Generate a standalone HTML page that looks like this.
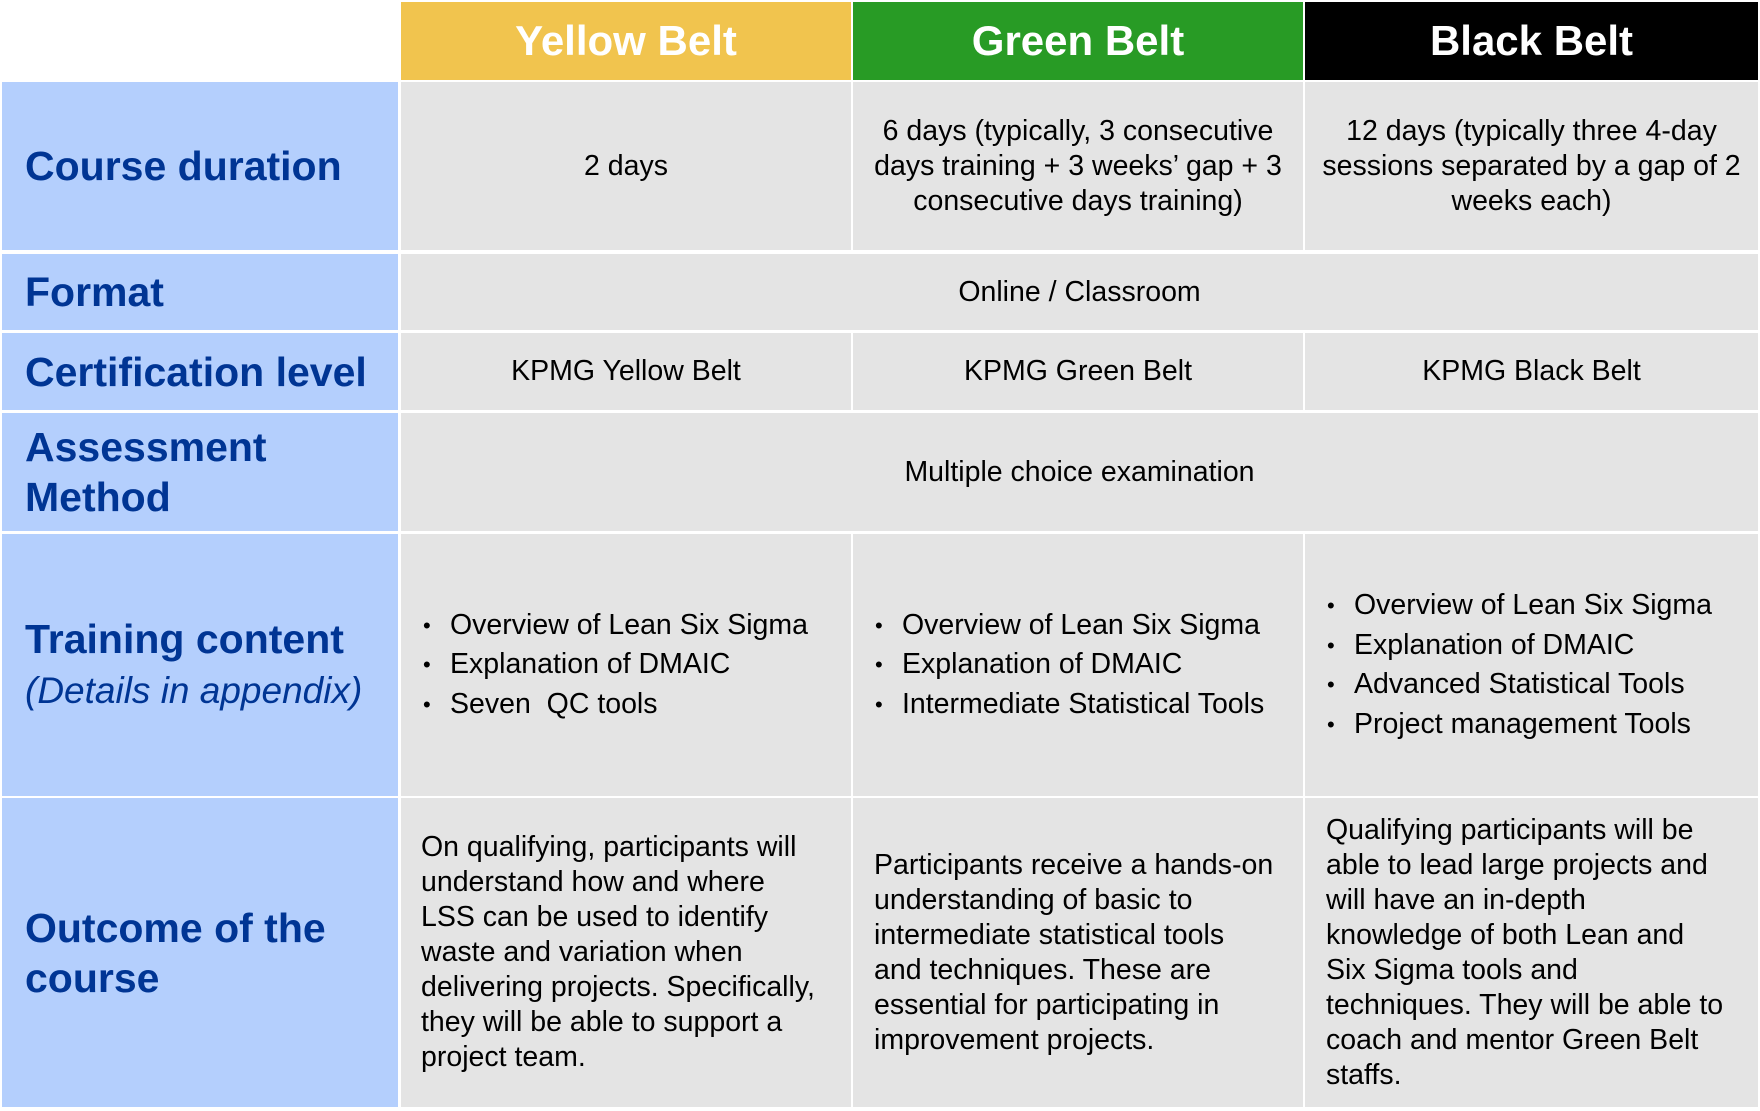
<!DOCTYPE html>
<html><head><meta charset="utf-8"><style>
body{margin:0;width:1760px;height:1111px;background:#fff;position:relative;overflow:hidden;font-family:"Liberation Sans",Arial,sans-serif}
.c{position:absolute;display:flex;align-items:center;box-sizing:border-box}
.h{justify-content:center;color:#fff;font-weight:bold;font-size:42px}
.l{background:#b4cffd;color:#003594;font-weight:bold;font-size:41px;padding-left:23px;line-height:50px}
.g{background:#e4e4e4;color:#000;font-size:28.5px;line-height:35px;justify-content:center;text-align:center;white-space:nowrap}
.t{justify-content:flex-start;text-align:left}
ul{margin:0;padding:0;list-style:none;line-height:39.5px}
li{position:relative;padding-left:27px}
li:before{content:"•";position:absolute;left:0;top:0;font-size:22px}
</style></head><body>
<div class="c h" style="left:401px;top:2px;width:450px;height:78px;background:#f1c44e">Yellow Belt</div>
<div class="c h" style="left:853px;top:2px;width:450px;height:78px;background:#289b25">Green Belt</div>
<div class="c h" style="left:1305px;top:2px;width:453px;height:78px;background:#000">Black Belt</div>

<div class="c l" style="left:2px;top:82px;width:396px;height:168px">Course duration</div>
<div class="c g" style="left:401px;top:82px;width:450px;height:168px">2 days</div>
<div class="c g" style="left:853px;top:82px;width:450px;height:168px"><div>6 days (typically, 3 consecutive<br>days training + 3 weeks’ gap + 3<br>consecutive days training)</div></div>
<div class="c g" style="left:1305px;top:82px;width:453px;height:168px"><div>12 days (typically three 4-day<br>sessions separated by a gap of 2<br>weeks each)</div></div>

<div class="c l" style="left:2px;top:254px;width:396px;height:76px">Format</div>
<div class="c g" style="left:401px;top:254px;width:1357px;height:76px">Online / Classroom</div>

<div class="c l" style="left:2px;top:333px;width:396px;height:77px">Certification level</div>
<div class="c g" style="left:401px;top:333px;width:450px;height:77px">KPMG Yellow Belt</div>
<div class="c g" style="left:853px;top:333px;width:450px;height:77px">KPMG Green Belt</div>
<div class="c g" style="left:1305px;top:333px;width:453px;height:77px">KPMG Black Belt</div>

<div class="c l" style="left:2px;top:413px;width:396px;height:118px">Assessment<br>Method</div>
<div class="c g" style="left:401px;top:413px;width:1357px;height:118px">Multiple choice examination</div>

<div class="c l" style="left:2px;top:534px;width:396px;height:262px"><div>Training content<br><span style="font-weight:normal;font-style:italic;font-size:37px">(Details in appendix)</span></div></div>
<div class="c g t" style="left:401px;top:534px;width:450px;height:262px;padding-left:22px"><ul><li>Overview of Lean Six Sigma</li><li>Explanation of DMAIC</li><li>Seven&nbsp; QC tools</li></ul></div>
<div class="c g t" style="left:853px;top:534px;width:450px;height:262px;padding-left:22px"><ul><li>Overview of Lean Six Sigma</li><li>Explanation of DMAIC</li><li>Intermediate Statistical Tools</li></ul></div>
<div class="c g t" style="left:1305px;top:534px;width:453px;height:262px;padding-left:22px"><ul><li>Overview of Lean Six Sigma</li><li>Explanation of DMAIC</li><li>Advanced Statistical Tools</li><li>Project management Tools</li></ul></div>

<div class="c l" style="left:2px;top:798px;width:396px;height:309px">Outcome of the<br>course</div>
<div class="c g t" style="left:401px;top:798px;width:450px;height:309px;padding-left:20px"><div>On qualifying, participants will<br>understand how and where<br>LSS can be used to identify<br>waste and variation when<br>delivering projects. Specifically,<br>they will be able to support a<br>project team.</div></div>
<div class="c g t" style="left:853px;top:798px;width:450px;height:309px;padding-left:21px"><div>Participants receive a hands-on<br>understanding of basic to<br>intermediate statistical tools<br>and techniques. These are<br>essential for participating in<br>improvement projects.</div></div>
<div class="c g t" style="left:1305px;top:798px;width:453px;height:309px;padding-left:21px"><div>Qualifying participants will be<br>able to lead large projects and<br>will have an in-depth<br>knowledge of both Lean and<br>Six Sigma tools and<br>techniques. They will be able to<br>coach and mentor Green Belt<br>staffs.</div></div>
</body></html>
